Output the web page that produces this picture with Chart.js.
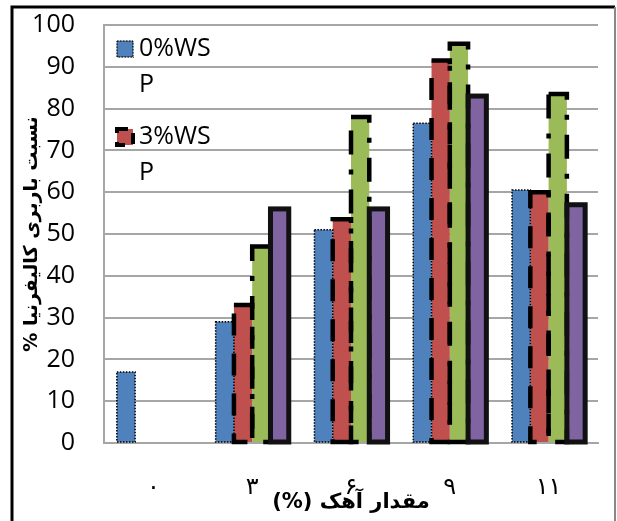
<!DOCTYPE html>
<html><head><meta charset="utf-8">
<script src="https://cdn.jsdelivr.net/npm/chart.js@4.4.1/dist/chart.umd.min.js"></script>
<style>
html,body{margin:0;padding:0;background:#fff;}
canvas{direction:rtl;display:block;}
</style></head><body>
<canvas id="c" width="617" height="521"></canvas>
<script>
// ---- data ----
const categories = ["۰", "۳", "۶", "۹", "۱۱"];
const seriesNames = ["0%WSP", "3%WSP", "5%WSP", "7%WSP"];
const legendLines = [["0%WS", "P"], ["3%WS", "P"]];
const ws0 = [17, 29, 51, 76.5, 60.5];
const ws3 = [null, 33, 53.5, 91.5, 60];
const ws5 = [null, 47, 78, 95.5, 83.5];
const ws7 = [null, 56, 56, 83, 57];
const yTicks = [0, 10, 20, 30, 40, 50, 60, 70, 80, 90, 100];
const xTitle = "مقدار آهک (%)";
const yTitle = "نسبت باربری کالیفرنیا %";

const colors = ["#4F81BD", "#C0504D", "#9BBB59", "#8064A2"];
const edges = [
  {color: "#000", width: 1.5, dash: [1.5, 1.5]},
  {color: "#000", width: 4.5, dash: [22, 18]},
  {color: "#000", width: 4.5, dash: [24, 15, 5, 15]},
  {color: "#111", width: 5, dash: []}
];
const seriesData = [ws0, ws3, ws5, ws7];

const borderPlugin = {
  id: 'barBorders',
  afterDatasetsDraw(chart) {
    const ctx = chart.ctx;
    chart.data.datasets.forEach((ds, i) => {
      const meta = chart.getDatasetMeta(i);
      const st = ds.edge;
      ctx.save();
      ctx.strokeStyle = st.color; ctx.lineWidth = st.width; ctx.setLineDash(st.dash); ctx.lineCap = 'butt';
      meta.data.forEach((el, j) => {
        if (ds.data[j] == null) return;
        const p = el.getProps(['x', 'y', 'base', 'width'], true);
        ctx.strokeRect(p.x - p.width / 2, p.y, p.width, p.base - p.y);
      });
      ctx.restore();
    });
  }
};

const legendPlugin = {
  id: 'innerLegend',
  afterDraw(chart) {
    const ctx = chart.ctx, a = chart.chartArea;
    ctx.save();
    ctx.direction = 'ltr';
    ctx.font = '25px "Open Sans", "DejaVu Sans", sans-serif';
    ctx.textAlign = 'left';
    ctx.textBaseline = 'middle';
    legendLines.forEach((lines, i) => {
      const ds = chart.data.datasets[i];
      const top = a.top + 15 + i * 88;
      const sx = a.left + 13, sy = top + 1, s = 16;
      ctx.fillStyle = ds.backgroundColor;
      ctx.fillRect(sx, sy, s, s);
      ctx.save();
      ctx.strokeStyle = ds.edge.color; ctx.lineWidth = Math.min(ds.edge.width, 4);
      ctx.setLineDash(ds.edge.dash.map(d => d * 0.5));
      ctx.strokeRect(sx, sy, s, s);
      ctx.restore();
      ctx.fillStyle = '#000';
      lines.forEach((t, k) => ctx.fillText(t, a.left + 35, top + 9 + k * 36));
    });
    ctx.restore();
  }
};

const framePlugin = {
  id: 'frame',
  beforeDraw(chart) {
    const ctx = chart.ctx;
    ctx.save(); ctx.fillStyle = '#fff'; ctx.fillRect(0, 0, chart.width, chart.height); ctx.restore();
  },
  afterDraw(chart) {
    const ctx = chart.ctx;
    ctx.save();
    ctx.strokeStyle = '#000'; ctx.lineWidth = 3;
    ctx.beginPath();
    ctx.moveTo(12, chart.height + 5); ctx.lineTo(12, 7); ctx.lineTo(615, 7);
    ctx.stroke();
    ctx.strokeStyle = '#888'; ctx.lineWidth = 2;
    ctx.beginPath(); ctx.moveTo(615, 7); ctx.lineTo(615, chart.height + 5); ctx.stroke();
    ctx.restore();
  }
};

new Chart(document.getElementById('c'), {
  type: 'bar',
  data: {
    labels: categories,
    datasets: seriesData.map((d, i) => ({
      label: seriesNames[i],
      data: d,
      backgroundColor: colors[i],
      borderWidth: 0,
      edge: edges[i],
      barPercentage: 1,
      categoryPercentage: 0.74
    }))
  },
  options: {
    responsive: false,
    animation: false,
    layout: {padding: {left: 0, right: 19, top: 25, bottom: 0}},
    plugins: {legend: {display: false}, tooltip: {enabled: false}},
    scales: {
      x: {
        grid: {display: false, drawTicks: false},
        border: {display: true, color: '#A6A6A6', width: 2},
        ticks: {color: '#000', padding: 30, font: {family: '"DejaVu Sans"', size: 24}},
        title: {display: true, text: xTitle, color: '#000', padding: {top: 0, bottom: 6},
                font: {family: '"DejaVu Sans"', size: 21, weight: 'bold'}},
        afterFit: s => { s.height = 78; }
      },
      y: {
        min: 0, max: 100,
        afterBuildTicks: s => { s.ticks = yTicks.map(v => ({value: v})); },
        grid: {color: '#A6A6A6', lineWidth: 2, drawTicks: false},
        border: {display: true, color: '#A6A6A6', width: 2},
        ticks: {color: '#000', padding: 29, font: {family: '"Open Sans", "DejaVu Sans", sans-serif', size: 25}},
        title: {display: true, text: yTitle, color: '#000', padding: {top: 21, bottom: 0},
                font: {family: '"DejaVu Sans"', size: 19, weight: 'bold'}},
        afterFit: s => { s.width = 104; s.paddingTop = 0; s.paddingBottom = 0; }
      }
    }
  },
  plugins: [framePlugin, borderPlugin, legendPlugin]
});
</script>
</body></html>
